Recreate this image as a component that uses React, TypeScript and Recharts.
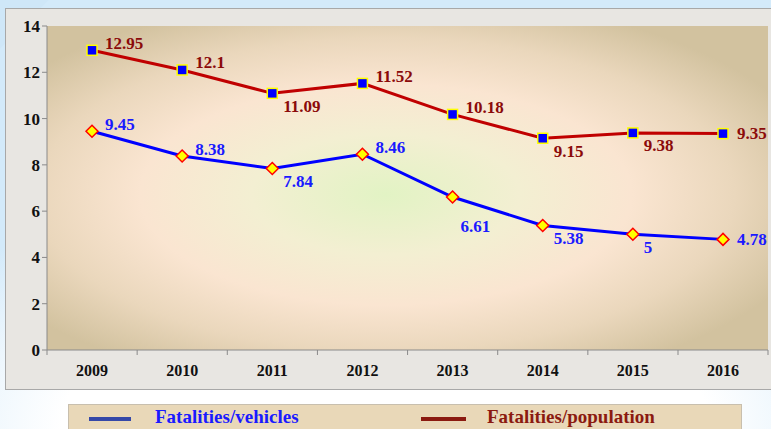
import { LineChart, Line, XAxis, YAxis, CartesianGrid, LabelList } from 'recharts'

const years = ['2009', '2010', '2011', '2012', '2013', '2014', '2015', '2016']
const perVehicles = [9.45, 8.38, 7.84, 8.46, 6.61, 5.38, 5, 4.78]
const perPopulation = [12.95, 12.1, 11.09, 11.52, 10.18, 9.15, 9.38, 9.35]
const yTicks = [0, 2, 4, 6, 8, 10, 12, 14]

// where each value label sits relative to its point
const vehiclesPlace = ['up', 'up', 'down', 'up', 'far', 'down', 'down', 'right']
const populationPlace = ['up', 'up', 'down', 'up', 'up', 'down', 'down', 'right']

const data = years.map((year, i) => ({
  year,
  vehicles: perVehicles[i],
  population: perPopulation[i],
}))

const serif = '"Liberation Serif", "Times New Roman", serif'

const offsets: Record<string, [number, number]> = {
  up: [13, -7],
  down: [11, 13],
  far: [8, 29],
  right: [14, 0],
}

function makeLabel(places: string[], color: string) {
  return (props: any) => {
    const { x, y, value, index } = props
    if (x == null || y == null) return null
    const [dx, dy] = offsets[places[index]] || [13, -7]
    return (
      <text
        x={x + dx}
        y={y + dy}
        fill={color}
        fontFamily={serif}
        fontWeight="bold"
        fontSize={17}
        textAnchor="start"
        dominantBaseline="central"
      >
        {value}
      </text>
    )
  }
}

const SquareDot = (props: any) => {
  const { cx, cy, index } = props
  if (cx == null || cy == null) return <g key={index} />
  return (
    <rect key={index} x={cx - 5} y={cy - 5} width={10} height={10}
      fill="#0000ff" stroke="#ffff00" strokeWidth={1.5} />
  )
}

const DiamondDot = (props: any) => {
  const { cx, cy, index } = props
  if (cx == null || cy == null) return <g key={index} />
  return (
    <path key={index}
      d={`M${cx},${cy - 6}L${cx + 6},${cy}L${cx},${cy + 6}L${cx - 6},${cy}Z`}
      fill="#ffff00" stroke="#ff0000" strokeWidth={1.5} />
  )
}

const YearTick = (props: any) => {
  const { x, y, payload, index } = props
  const half = 45
  return (
    <g>
      <line x1={x - half} y1={y} x2={x - half} y2={y + 5} stroke="#8a8a8a" />
      {index === years.length - 1 && (
        <line x1={x + half} y1={y} x2={x + half} y2={y + 5} stroke="#8a8a8a" />
      )}
      <text x={x} y={y + 20} textAnchor="middle" dominantBaseline="central"
        fontFamily={serif} fontWeight="bold" fontSize={16} fill="#111">
        {payload.value}
      </text>
    </g>
  )
}

export default function App() {
  return (
    <div
      style={{
        position: 'fixed', left: 0, top: 0, width: 771, height: 429, overflow: 'hidden',
        background: 'radial-gradient(ellipse 70% 60% at 50% 100%, #ffffff 60%, #d3eafa 100%), #d3eafa',
      }}
    >
      <div style={{
        position: 'absolute', left: 0, top: 0, width: 60, height: 60,
        background: 'linear-gradient(135deg, #cfe7f8 40%, rgba(255,255,255,0) 41%)',
      }} />
      <div
        style={{
          position: 'absolute', left: 5, top: 8, width: 790, height: 380,
          background: '#e8e6e2', border: '1px solid #a8a8a8',
        }}
      />
      <div style={{ position: 'absolute', left: 0, top: 0 }}>
        <LineChart width={771} height={429} data={data}
          margin={{ top: 26, right: 3, left: 7, bottom: 39 }}>
          <defs>
            <radialGradient id="plotBg" cx="0.47" cy="0.52" r="0.62">
              <stop offset="0" stopColor="#e2f3c4" />
              <stop offset="0.3" stopColor="#f3efd2" />
              <stop offset="0.55" stopColor="#fae5d1" />
              <stop offset="0.78" stopColor="#ead7bc" />
              <stop offset="1" stopColor="#d2c29f" />
            </radialGradient>
          </defs>
          <CartesianGrid fill="url(#plotBg)" stroke="none" />
          <XAxis dataKey="year" height={40} tick={<YearTick />} tickLine={false}
            padding={{ left: 45, right: 45 }}
            tickSize={0} tickMargin={0} axisLine={{ stroke: '#8a8a8a' }} interval={0} />
          <YAxis width={40} domain={[0, 14]} ticks={yTicks} interval={0}
            axisLine={{ stroke: '#8a8a8a' }} tickLine={{ stroke: '#8a8a8a' }} tickSize={5}
            tick={{ fill: '#111', fontFamily: serif, fontWeight: 'bold', fontSize: 17 }} />
          <Line type="linear" dataKey="population" stroke="#c00000" strokeWidth={3}
            dot={<SquareDot />} activeDot={false} isAnimationActive={false}>
            <LabelList dataKey="population" content={makeLabel(populationPlace, '#8b0a0a')} />
          </Line>
          <Line type="linear" dataKey="vehicles" stroke="#0000ff" strokeWidth={3}
            dot={<DiamondDot />} activeDot={false} isAnimationActive={false}>
            <LabelList dataKey="vehicles" content={makeLabel(vehiclesPlace, '#1a1aff')} />
          </Line>
        </LineChart>
      </div>
      <div
        style={{
          position: 'absolute', left: 68, top: 404, width: 672, height: 30,
          background: '#e9d8b8', border: '1px solid #c8bfae',
          fontFamily: serif, fontWeight: 'bold', fontSize: 19,
        }}
      >
        <div style={{ position: 'absolute', left: 20, top: 12, width: 42, height: 4, background: '#3548a8' }} />
        <div style={{ position: 'absolute', left: 86, top: 1, color: '#1a1aff' }}>Fatalities/vehicles</div>
        <div style={{ position: 'absolute', left: 352, top: 12, width: 45, height: 4, background: '#8b1a10' }} />
        <div style={{ position: 'absolute', left: 418, top: 1, color: '#8b1a10' }}>Fatalities/population</div>
      </div>
    </div>
  )
}
